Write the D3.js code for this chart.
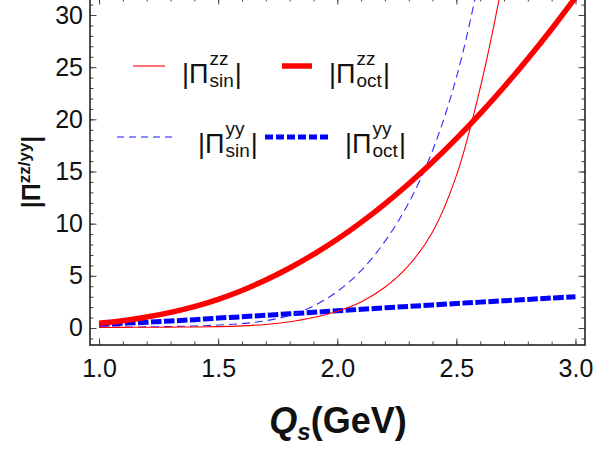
<!DOCTYPE html>
<html>
<head>
<meta charset="utf-8">
<script src="https://cdn.jsdelivr.net/npm/d3@7"></script>
<style>
  body { margin: 0; background: #fff; }
  text { font-family: "Liberation Sans", Arial, sans-serif; }
</style>
</head>
<body>
<script>
var w = 613;
var h = 451;

// Q_s values (GeV)
var qs = [1.0, 1.1, 1.2, 1.3, 1.4, 1.5, 1.6, 1.7, 1.8, 1.9, 2.0,
          2.1, 2.2, 2.3, 2.4, 2.5, 2.6, 2.7, 2.8, 2.9, 3.0];

// |Pi^zz_sin|  (thin red)
var sinZZ = [0.05, 0.06, 0.07, 0.08, 0.1, 0.13, 0.2, 0.34, 0.6, 1.0, 1.6,
             2.5, 3.9, 6.0, 9.2, 14.6, 23, 34, 48, 66, 88];
// |Pi^zz_oct|  (thick red)
var octZZ = [0.45, 0.7, 1.05, 1.5, 2.05, 2.75, 3.6, 4.6, 5.75, 7.05, 8.5,
             10.12, 11.9, 13.83, 15.91, 18.15, 20.55, 23.1, 25.8, 28.66, 31.68];
// |Pi^yy_sin|  (thin dashed blue)
var sinYY = [0.08, 0.09, 0.11, 0.14, 0.19, 0.28, 0.42, 0.7, 1.2, 2.1, 3.5,
             5.5, 8.3, 12.0, 17.0, 24.0, 34, 47, 63, 82, 105];
// |Pi^yy_oct|  (thick dashed blue)
var octYY = [0.35, 0.45, 0.55, 0.67, 0.8, 0.95, 1.08, 1.22, 1.36, 1.5, 1.65,
             1.79, 1.93, 2.07, 2.21, 2.35, 2.48, 2.61, 2.74, 2.87, 3.0];

var xMajor = [1.0, 1.5, 2.0, 2.5, 3.0];
var yMajor = [0, 5, 10, 15, 20, 25, 30];

var padL = 90, padR = 585, padT = -2, padB = 345;

var xScale = d3.scaleLinear().domain([0.962, 3.04]).range([padL, padR]);
var yScale = d3.scaleLinear().domain([-1.63, 31.63]).range([padB, padT]);

var xMinor = d3.range(10, 31).map(function(d) { return d / 10; });
var yMinor = d3.range(-1, 32);

var svg = d3.select("body").append("svg")
    .attr("width", w)
    .attr("height", h);

svg.append("defs").append("clipPath").attr("id", "plot")
    .append("rect")
    .attr("x", padL).attr("y", padT)
    .attr("width", padR - padL).attr("height", padB - padT);

// axes, ticks point inward
function tidy(g) {
    g.select(".domain").remove();
    g.selectAll("line").attr("stroke", "#444");
    g.selectAll("text")
        .attr("font-family", "Liberation Sans, Arial, sans-serif")
        .attr("font-size", 25)
        .attr("fill", "#111");
}

svg.append("g")
    .attr("transform", "translate(0," + padB + ")")
    .call(d3.axisBottom(xScale).tickValues(xMinor).tickSize(-3.5).tickFormat(""))
    .call(tidy);
svg.append("g")
    .attr("transform", "translate(0," + padB + ")")
    .call(d3.axisBottom(xScale).tickValues(xMajor).tickSize(-6.5).tickPadding(14)
        .tickFormat(d3.format(".1f")))
    .call(tidy);
svg.append("g")
    .attr("transform", "translate(0," + padT + ")")
    .call(d3.axisTop(xScale).tickValues(xMinor).tickSize(-3.5).tickFormat(""))
    .call(tidy);
svg.append("g")
    .attr("transform", "translate(0," + padT + ")")
    .call(d3.axisTop(xScale).tickValues(xMajor).tickSize(-6.5).tickFormat(""))
    .call(tidy);

svg.append("g")
    .attr("transform", "translate(" + padL + ",0)")
    .call(d3.axisLeft(yScale).tickValues(yMinor).tickSize(-3.5).tickFormat(""))
    .call(tidy);
svg.append("g")
    .attr("transform", "translate(" + padL + ",0)")
    .call(d3.axisLeft(yScale).tickValues(yMajor).tickSize(-6.5).tickPadding(7))
    .call(tidy);
svg.append("g")
    .attr("transform", "translate(" + padR + ",0)")
    .call(d3.axisRight(yScale).tickValues(yMinor).tickSize(-3.5).tickFormat(""))
    .call(tidy);
svg.append("g")
    .attr("transform", "translate(" + padR + ",0)")
    .call(d3.axisRight(yScale).tickValues(yMajor).tickSize(-6.5).tickFormat(""))
    .call(tidy);

// frame
svg.append("rect")
    .attr("x", padL).attr("y", padT)
    .attr("width", padR - padL).attr("height", padB - padT)
    .attr("fill", "none")
    .attr("stroke", "#222")
    .attr("stroke-width", 1.6);

var series = [
    { vals: octYY, color: "#0000ff", width: 5, dash: "10.5,2.5" },
    { vals: sinYY, color: "#2b2bff", width: 1.1, dash: "8,5" },
    { vals: sinZZ, color: "#ff0000", width: 1.1, dash: null },
    { vals: octZZ, color: "#ff0000", width: 5.5, dash: null }
];

var line = d3.line()
    .x(function(d) { return xScale(d[0]); })
    .y(function(d) { return yScale(d[1]); })
    .curve(d3.curveCatmullRom.alpha(0.5));

var curves = svg.append("g").attr("clip-path", "url(#plot)");
series.forEach(function(s) {
    curves.append("path")
        .datum(qs.map(function(q, i) { return [q, s.vals[i]]; }))
        .attr("d", line)
        .attr("fill", "none")
        .attr("stroke", s.color)
        .attr("stroke-width", s.width)
        .attr("stroke-dasharray", s.dash);
});

// legend
var legend = [
    { x1: 133, x2: 165, y: 66, color: "#ff0000", width: 1.1, dash: null, tx: 182, ty: 83, sup: "zz", sub: "sin" },
    { x1: 282, x2: 312, y: 66, color: "#ff0000", width: 5.5, dash: null, tx: 329, ty: 83, sup: "zz", sub: "oct" },
    { x1: 117, x2: 177, y: 137, color: "#6666ff", width: 1.3, dash: "7,5", tx: 198, ty: 153, sup: "yy", sub: "sin" },
    { x1: 265, x2: 328, y: 137, color: "#0000ff", width: 5, dash: "8,3", tx: 345, ty: 153, sup: "yy", sub: "oct" }
];

legend.forEach(function(l) {
    svg.append("line")
        .attr("x1", l.x1).attr("x2", l.x2)
        .attr("y1", l.y).attr("y2", l.y)
        .attr("stroke", l.color)
        .attr("stroke-width", l.width)
        .attr("stroke-dasharray", l.dash);

    var main = svg.append("text")
        .attr("x", l.tx).attr("y", l.ty)
        .attr("font-size", 27)
        .attr("fill", "#111")
        .text("|\u03A0");
    var x1 = l.tx + main.node().getComputedTextLength() + 1;
    var sup = svg.append("text")
        .attr("x", x1).attr("y", l.ty - 18)
        .attr("font-size", 19)
        .attr("fill", "#111")
        .text(l.sup);
    var sub = svg.append("text")
        .attr("x", x1).attr("y", l.ty + 4)
        .attr("font-size", 19)
        .attr("fill", "#111")
        .text(l.sub);
    var x2 = x1 + Math.max(sup.node().getComputedTextLength(), sub.node().getComputedTextLength()) + 1;
    svg.append("text")
        .attr("x", x2).attr("y", l.ty)
        .attr("font-size", 27)
        .attr("fill", "#111")
        .text("|");
});

// X axis label
var xl = svg.append("text")
    .attr("text-anchor", "middle")
    .attr("x", 338)
    .attr("y", 433)
    .attr("font-size", 36)
    .attr("font-weight", "bold")
    .attr("fill", "#111");
xl.append("tspan").attr("font-style", "italic").text("Q");
xl.append("tspan").attr("font-style", "italic").attr("font-size", 24).attr("dy", 7).text("s");
xl.append("tspan").attr("dy", -7).text("(GeV)");

// Y axis label
var yl = svg.append("text")
    .attr("text-anchor", "middle")
    .attr("transform", "translate(40,172) rotate(-90)")
    .attr("font-size", 25)
    .attr("font-weight", "bold")
    .attr("fill", "#111");
yl.append("tspan").text("|\u03A0");
yl.append("tspan").attr("font-size", 17).attr("dy", -10).text("zz/yy");
yl.append("tspan").attr("dy", 10).text("|");
</script>
</body>
</html>
